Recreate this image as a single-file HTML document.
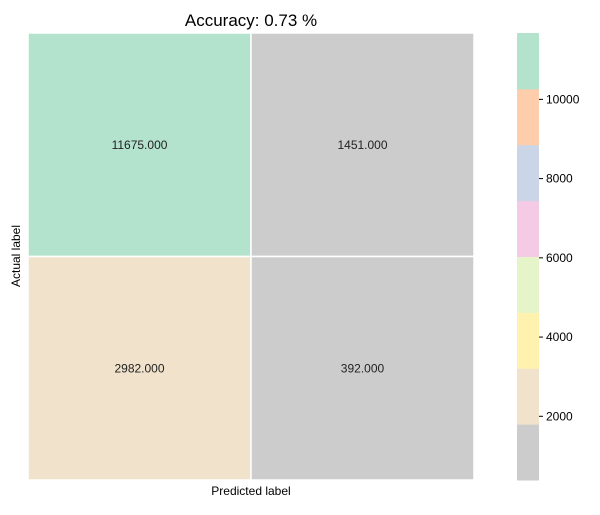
<!DOCTYPE html>
<html><head><meta charset="utf-8"><style>
body{margin:0;background:#fff;}
svg text{font-family:"Liberation Sans","DejaVu Sans",sans-serif;}
</style></head><body>
<svg id="chart" width="600" height="510" xmlns="http://www.w3.org/2000/svg">
<text x="251" y="26" text-anchor="middle" font-size="17" fill="#000">Accuracy: 0.73 %</text>
<g id="cells"></g>
<g id="cbar"></g>
<text x="251" y="495" text-anchor="middle" font-size="12">Predicted label</text>
<text transform="translate(20,256) rotate(-90)" text-anchor="middle" font-size="12">Actual label</text>
</svg>
<script>
const rowLabels=["actual-0","actual-1"];
const colLabels=["pred-0","pred-1"];
const values=[[11675,1451],[2982,392]];
const cbTicks=[2000,4000,6000,8000,10000];
const palette=["#cccccc","#f1e2cc","#fff2ae","#e6f5c9","#f4cae4","#cbd5e8","#fdcdac","#b3e2cd"];
const NS="http://www.w3.org/2000/svg";
const X0=28,X1=474,Y0=33,Y1=480;
const flat=values.flat();
const vmin=Math.min(...flat),vmax=Math.max(...flat);
function colorOf(v){let i=Math.floor((v-vmin)/(vmax-vmin)*palette.length);if(i>=palette.length)i=palette.length-1;if(i<0)i=0;return palette[i];}
const cw=(X1-X0)/colLabels.length,ch=(Y1-Y0)/rowLabels.length;
const cells=document.getElementById('cells');
values.forEach((row,r)=>row.forEach((v,c)=>{
  const rect=document.createElementNS(NS,'rect');
  
  
  rect.setAttribute('x',X0+c*cw);rect.setAttribute('y',Y0+r*ch);
  rect.setAttribute('width',cw);rect.setAttribute('height',ch);
  rect.setAttribute('fill',colorOf(v));rect.setAttribute('stroke','#fff');rect.setAttribute('stroke-width','1.5');
  cells.appendChild(rect);
  const t=document.createElementNS(NS,'text');
  
  
  t.setAttribute('x',X0+c*cw+cw/2);t.setAttribute('y',Y0+r*ch+ch/2+4);
  t.setAttribute('text-anchor','middle');t.setAttribute('font-size','12');t.setAttribute('fill','#222');
  t.textContent=v.toFixed(3);
  cells.appendChild(t);
}));
const CX0=517,CX1=539;
const cb=document.getElementById('cbar');
function cy(v){return Y1-(v-vmin)/(vmax-vmin)*(Y1-Y0);}
const bh=(Y1-Y0)/palette.length;
palette.forEach((col,i)=>{
  const r=document.createElementNS(NS,'rect');
  
  
  r.setAttribute('x',CX0);r.setAttribute('y',Y1-(i+1)*bh);r.setAttribute('width',CX1-CX0);r.setAttribute('height',bh+0.5);
  r.setAttribute('fill',col);
  cb.appendChild(r);
});
cbTicks.forEach(v=>{
  const y=cy(v);
  const l=document.createElementNS(NS,'line');
  
  
  l.setAttribute('x1',CX1);l.setAttribute('x2',CX1+4);l.setAttribute('y1',y);l.setAttribute('y2',y);l.setAttribute('stroke','#000');
  cb.appendChild(l);
  const t=document.createElementNS(NS,'text');
  
  
  t.setAttribute('x',CX1+7);t.setAttribute('y',y+4);t.setAttribute('font-size','12');
  t.textContent=v;
  cb.appendChild(t);
});
</script>
</body></html>
